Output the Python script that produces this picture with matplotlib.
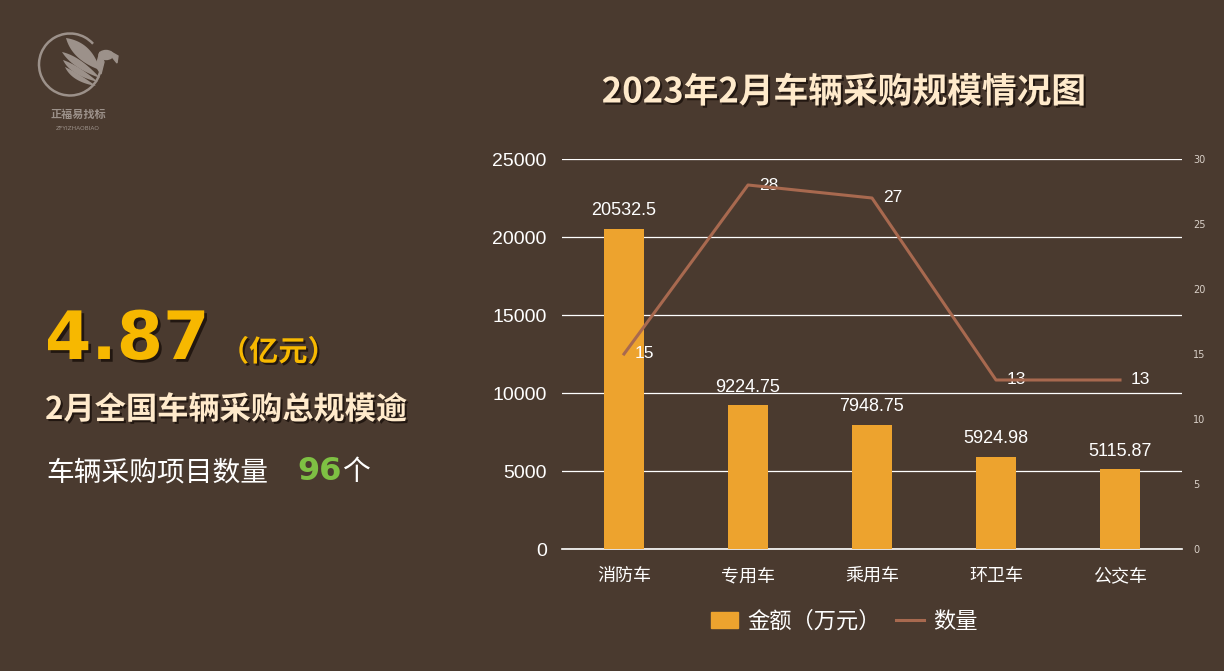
import numpy as np
import matplotlib
matplotlib.use('Agg')
import matplotlib.pyplot as plt
import matplotlib.patheffects as pe
from matplotlib.patches import Arc, Ellipse, Polygon

# data
categories = ['消防车', '专用车', '乘用车', '环卫车', '公交车']
amounts = [20532.5, 9224.75, 7948.75, 5924.98, 5115.87]
counts = [15, 28, 27, 13, 13]
amount_labels = ['20532.5', '9224.75', '7948.75', '5924.98', '5115.87']
left_ticks = [0, 5000, 10000, 15000, 20000, 25000]
right_ticks = [0, 5, 10, 15, 20, 25, 30]

bg = '#4A3A2F'
bar_color = '#EDA32E'
line_color = '#A8694F'
cream = '#FFEACB'
cjk = ['Noto Sans CJK SC', 'DejaVu Sans']
num_font = ['Liberation Sans', 'Noto Sans CJK SC']

plt.rcParams['font.family'] = cjk

fig = plt.figure(figsize=(12.24, 6.71), dpi=100)
fig.patch.set_facecolor(bg)

shadow = [pe.withSimplePatchShadow(offset=(1.5, -1.5), shadow_rgbFace='#1E140E', alpha=0.9)]

# ---- left info panel ----
fig.text(45 / 1224, 1 - 340 / 671, '4.87', fontsize=48, fontweight='bold', color='#F7B800',
         family=['DejaVu Sans'], va='center', ha='left',
         path_effects=[pe.withSimplePatchShadow(offset=(2, -2), shadow_rgbFace='#1E140E', alpha=0.9)])
fig.text(220 / 1224, 1 - 352 / 671, '（亿元）', fontsize=21, fontweight='bold', color='#F7B800',
         va='center', ha='left', path_effects=shadow)
fig.text(45 / 1224, 1 - 410 / 671, '2月全国车辆采购总规模逾', fontsize=22.5, fontweight='bold', color=cream,
         va='center', ha='left', path_effects=shadow)
fig.text(46 / 1224, 1 - 472 / 671, '车辆采购项目数量', fontsize=20, color='white',
         va='center', ha='left')
fig.text(297 / 1224, 1 - 472 / 671, '96', fontsize=23, fontweight='bold', color='#7EC043',
         family=['DejaVu Sans'], va='center', ha='left')
fig.text(342 / 1224, 1 - 472 / 671, '个', fontsize=20, color='white', va='center', ha='left')

# ---- logo ----
lax = fig.add_axes([0, 1 - 140 / 671, 160 / 1224, 120 / 671])
lax.set_xlim(0, 160)
lax.set_ylim(0, 120)
lax.axis('off')
logo = '#9C918A'
lax.add_patch(Arc((70, 75.5), 62, 62, theta1=42, theta2=350, color=logo, lw=1.8))


def crescent(p0, p2, c_out, c_in):
    t = np.linspace(0, 1, 30)[:, None]
    p0, p2, c_out, c_in = map(np.array, (p0, p2, c_out, c_in))
    a = (1 - t) ** 2 * p0 + 2 * (1 - t) * t * c_out + t ** 2 * p2
    b = (1 - t) ** 2 * p0 + 2 * (1 - t) * t * c_in + t ** 2 * p2
    return np.vstack([a, b[::-1]])


for p0, p2, co, ci in [((66, 102), (100, 70), (92, 98), (72, 80)),
                       ((62, 88), (100, 62), (80, 84), (72, 72)),
                       ((63, 80), (98, 58), (78, 75), (70, 65)),
                       ((65, 73), (96, 54), (78, 67), (72, 58))]:
    lax.add_patch(Polygon(crescent(p0, p2, co, ci), closed=True, color=logo, lw=0))
lax.add_patch(Ellipse((106, 85), 14, 9, color=logo))
lax.add_patch(Polygon([(111, 88), (118, 84), (117, 77), (113, 82)], closed=True, color=logo))
lax.add_patch(Polygon([(100, 88), (104, 78), (101, 66), (96, 74)], closed=True, color=logo))
lax.text(78, 26, '正福易找标', fontsize=8, color=logo, ha='center', va='center',
         fontweight='bold')
lax.text(78, 12, 'ZFYIZHAOBIAO', fontsize=4.2, color=logo, ha='center', va='center',
         family=['DejaVu Sans'])

# ---- chart ----
ax = fig.add_axes([562 / 1224, 1 - 549 / 671, 620 / 1224, 390 / 671])
ax.set_facecolor(bg)
x = np.arange(len(categories))
ax.bar(x, amounts, width=0.32, color=bar_color, zorder=3)
ax.set_xlim(-0.5, len(categories) - 0.5)
ax.set_ylim(0, 25000)
ax.set_yticks(left_ticks)
ax.set_yticklabels([str(v) for v in left_ticks], family=num_font, fontsize=14, color='white')
ax.set_xticks(x)
ax.set_xticklabels(categories, fontsize=13, color='white')
ax.tick_params(axis='y', length=0, pad=11)
ax.tick_params(axis='x', length=0, pad=13)
for s in ax.spines.values():
    s.set_visible(False)
ax.grid(axis='y', color='white', lw=0.9, zorder=1)
ax.axhline(0, color='white', lw=1.2, zorder=2, clip_on=False)
ax.set_axisbelow(True)
for i, v in enumerate(amounts):
    ax.annotate(amount_labels[i], (x[i], v), xytext=(0, 13), textcoords='offset points',
                ha='center', va='center', fontsize=13, color='white', family=num_font)

ax2 = ax.twinx()
ax2.plot(x, counts, color=line_color, lw=2.2, zorder=4)
ax2.set_ylim(0, 30)
ax2.set_yticks(right_ticks)
ax2.set_yticklabels([str(v) for v in right_ticks], family=['DejaVu Sans'], fontsize=7,
                    color='#D9D0C8')
ax2.tick_params(axis='y', length=0, pad=8)
for s in ax2.spines.values():
    s.set_visible(False)
for i, v in enumerate(counts):
    ax2.annotate(str(v), (x[i], v), xytext=(8, 0), textcoords='offset points',
                 ha='left', va='center', fontsize=12.5, color='white', family=num_font)

fig.text(844 / 1224, 1 - 92 / 671, '2023年2月车辆采购规模情况图', fontsize=25, fontweight='bold',
         color=cream, ha='center', va='center', path_effects=shadow)

# legend
h1 = plt.Rectangle((0, 0), 1, 1, color=bar_color)
h2 = plt.Line2D([0], [0], color=line_color, lw=2.2)
fig.legend([h1, h2], ['金额（万元）', '数量'], loc='center', bbox_to_anchor=(844 / 1224, 1 - 621 / 671),
           ncol=2, frameon=False, fontsize=16, labelcolor='white', handlelength=1.25,
           handleheight=0.7, columnspacing=0.7, handletextpad=0.4)

fig.savefig('out.png', dpi=100, facecolor=bg)
